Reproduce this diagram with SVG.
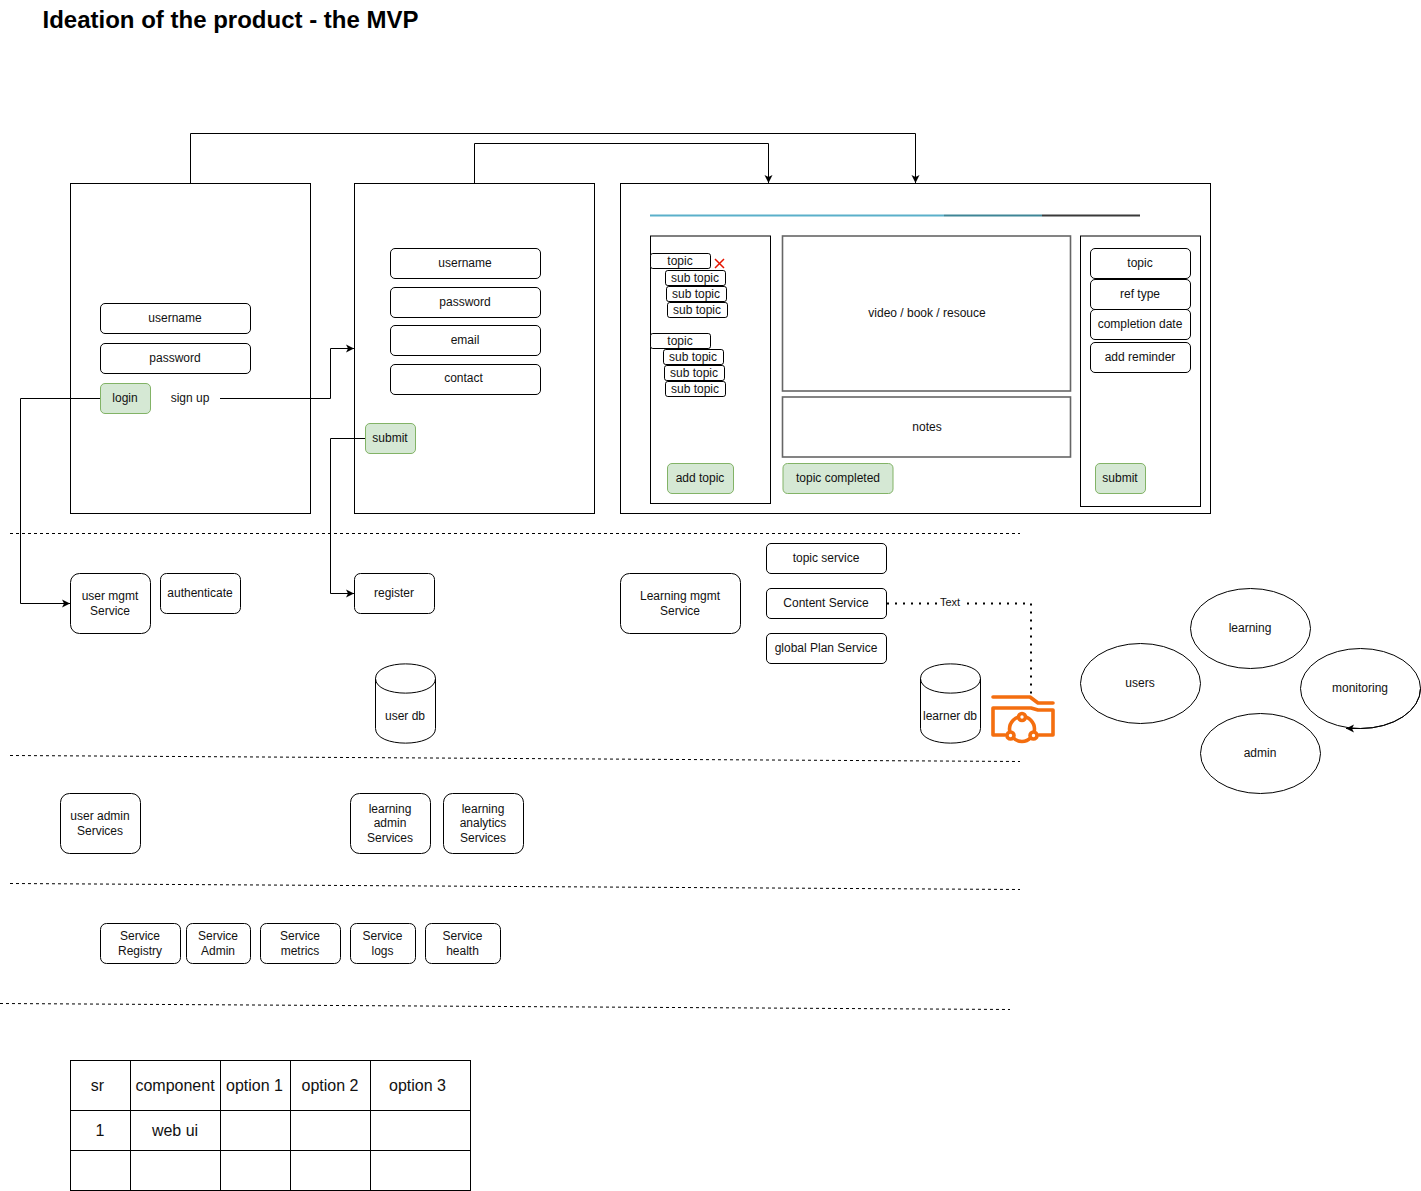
<svg xmlns="http://www.w3.org/2000/svg" width="1421" height="1191" viewBox="0 0 1421 1191">
<style>
text{font-family:"Liberation Sans",Arial,sans-serif;font-size:12px;text-anchor:middle;fill:#111}
.b{fill:#fff;stroke:#000;stroke-width:1}
.g{fill:#d5e8d4;stroke:#82b366;stroke-width:1}
.f{fill:none;stroke:#000;stroke-width:1}
.d{fill:none;stroke:#000;stroke-width:1;stroke-dasharray:3 3}
.t{font-size:16px}
.gr{fill:#fff;stroke:#666;stroke-width:1.600}
</style>
<defs><marker id="a" markerWidth="9" markerHeight="9" refX="8" refY="4.500" orient="auto" markerUnits="userSpaceOnUse"><path d="M0 0.500L8 4.500L0 8.500L2 4.500Z" fill="#000"/></marker></defs>
<rect width="1421" height="1191" fill="#fff"/>
<text x="230.500" y="28" style="font-size:24px;font-weight:bold;fill:#000">Ideation of the product - the MVP</text>

<g id="screens">
<rect class="b" x="70.500" y="183.500" width="240" height="330"/>
<rect class="b" x="354.500" y="183.500" width="240" height="330"/>
<rect class="b" x="620.500" y="183.500" width="590" height="330"/>
<rect class="b" x="650.500" y="236" width="120" height="267.500"/>
<rect class="gr" x="782.500" y="236" width="288" height="155"/>
<rect class="gr" x="782.500" y="397" width="288" height="60"/>
<rect class="b" x="1080.500" y="236" width="120" height="270.500"/>
</g>

<g id="progress">
<path d="M650 215.500H944" stroke="#5ab0ca" stroke-width="2" fill="none"/>
<path d="M944 215.500H1042" stroke="#3f8596" stroke-width="2" fill="none"/>
<path d="M1042 215.500H1140" stroke="#3a3a3a" stroke-width="2" fill="none"/>
</g>

<g id="connectors">
<path class="f" d="M190.500 183V133.500H915.500V183" marker-end="url(#a)"/>
<path class="f" d="M474.500 183V143.500H768.500V183" marker-end="url(#a)"/>
<path class="f" d="M220 398.500H330.500V348.500H354" marker-end="url(#a)"/>
<path class="f" d="M100 398.500H20.500V603.500H70" marker-end="url(#a)"/>
<path class="f" d="M365 438.500H330.500V593.500H354" marker-end="url(#a)"/>
<path d="M887 603.500H1031V695" fill="none" stroke="#000" stroke-width="2" stroke-dasharray="2 6"/>
<rect x="938" y="596" width="25" height="13" fill="#fff"/>
<text x="950" y="606" style="font-size:11px">Text</text>
</g>

<g id="seps">
<path class="d" d="M10 533.500H1020"/>
<path class="d" d="M10 755.500L1020 761.500"/>
<path class="d" d="M10 883.500L1020 889.500"/>
<path class="d" d="M0 1003.500L1010 1009.500"/>
</g>

<g id="login-form">
<rect class="b" x="100.500" y="303.500" width="150" height="30" rx="4.500"/><text x="175" y="322">username</text>
<rect class="b" x="100.500" y="343.500" width="150" height="30" rx="4.500"/><text x="175" y="362">password</text>
<rect class="g" x="100.500" y="383.500" width="50" height="30" rx="4.500"/><text x="125" y="402">login</text>
<text x="190" y="402">sign up</text>
</g>

<g id="signup-form">
<rect class="b" x="390.500" y="248.500" width="150" height="30" rx="4.500"/><text x="465" y="267">username</text>
<rect class="b" x="390.500" y="287.500" width="150" height="30" rx="4.500"/><text x="465" y="306">password</text>
<rect class="b" x="390.500" y="325.500" width="150" height="30" rx="4.500"/><text x="465" y="344">email</text>
<rect class="b" x="390.500" y="364.500" width="150" height="30" rx="4.500"/><text x="463.500" y="382">contact</text>
<rect class="g" x="365.500" y="423.500" width="50" height="30" rx="4.500"/><text x="390" y="442">submit</text>
</g>

<g id="topics">
<rect class="b" x="650.500" y="253.500" width="60" height="15" rx="2.300"/><text x="680" y="265">topic</text>
<path d="M715 259L724 268M724 259L715 268" stroke="#e51400" stroke-width="1.500" fill="none"/>
<rect class="b" x="665.500" y="270.500" width="60" height="15" rx="2.300"/><text x="695" y="282">sub topic</text>
<rect class="b" x="666.500" y="286.500" width="60" height="15" rx="2.300"/><text x="696" y="298">sub topic</text>
<rect class="b" x="667.500" y="302.500" width="60" height="15" rx="2.300"/><text x="697" y="314">sub topic</text>
<rect class="b" x="650.500" y="333.500" width="60" height="15" rx="2.300"/><text x="680" y="345">topic</text>
<rect class="b" x="663.500" y="349.500" width="60" height="15" rx="2.300"/><text x="693" y="361">sub topic</text>
<rect class="b" x="664.500" y="365.500" width="60" height="15" rx="2.300"/><text x="694" y="377">sub topic</text>
<rect class="b" x="665.500" y="381.500" width="60" height="15" rx="2.300"/><text x="695" y="393">sub topic</text>
<rect class="g" x="667.500" y="463.500" width="66" height="30" rx="4.500"/><text x="700" y="482">add topic</text>
</g>

<g id="content">
<text x="927" y="317">video / book / resouce</text>
<text x="927" y="431">notes</text>
<rect class="g" x="783" y="463.500" width="110" height="30" rx="4.500"/><text x="838" y="482">topic completed</text>
</g>

<g id="details">
<rect class="b" x="1090.500" y="248.500" width="100" height="30" rx="4.500"/><text x="1140" y="267">topic</text>
<rect class="b" x="1090.500" y="279.500" width="100" height="30" rx="4.500"/><text x="1140" y="298">ref type</text>
<rect class="b" x="1090.500" y="309.500" width="100" height="30" rx="4.500"/><text x="1140" y="328">completion date</text>
<rect class="b" x="1090.500" y="342.500" width="100" height="30" rx="4.500"/><text x="1140" y="361">add reminder</text>
<rect class="g" x="1095.500" y="463.500" width="50" height="30" rx="4.500"/><text x="1120" y="482">submit</text>
</g>

<g id="user-mgmt"><rect class="b" x="70.500" y="573.500" width="80" height="60" rx="9"/><text x="110" y="600">user mgmt</text><text x="110" y="615">Service</text></g>
<g id="authenticate"><rect class="b" x="160.500" y="573.500" width="80" height="40" rx="6"/><text x="200" y="597">authenticate</text></g>
<g id="register"><rect class="b" x="354.500" y="573.500" width="80" height="40" rx="6"/><text x="394" y="597">register</text></g>
<g id="learning-mgmt"><rect class="b" x="620.500" y="573.500" width="120" height="60" rx="9"/><text x="680" y="600">Learning mgmt</text><text x="680" y="615">Service</text></g>
<g id="topic-service"><rect class="b" x="766.500" y="543.500" width="120" height="30" rx="4.500"/><text x="826" y="562">topic service</text></g>
<g id="content-service"><rect class="b" x="766.500" y="588.500" width="120" height="30" rx="4.500"/><text x="826" y="607">Content Service</text></g>
<g id="plan-service"><rect class="b" x="766.500" y="633.500" width="120" height="30" rx="4.500"/><text x="826" y="652">global Plan Service</text></g>

<g id="user-db"><path class="b" d="M375.500 678.500C375.500 659 435.500 659 435.500 678.500V728.500C435.500 748 375.500 748 375.500 728.500Z"/><path class="f" d="M375.500 678.500C375.500 698 435.500 698 435.500 678.500"/><text x="405" y="720">user db</text></g>
<g id="learner-db"><path class="b" d="M920.500 678.500C920.500 659 980.500 659 980.500 678.500V728.500C980.500 748 920.500 748 920.500 728.500Z"/><path class="f" d="M920.500 678.500C920.500 698 980.500 698 980.500 678.500"/><text x="950" y="720">learner db</text></g>

<g id="folder-icon" fill="none" stroke="#f46e0f" stroke-width="3.600" stroke-linecap="round" stroke-linejoin="round">
<path d="M993 697H1030L1038 703H1053"/>
<path d="M1005 735H993V708H1031L1038 710H1053V735H1039"/>
<circle cx="1022" cy="729" r="12.500" fill="#fff"/>
<circle cx="1022" cy="717" r="3.500" fill="#fff"/><circle cx="1010.500" cy="735.500" r="3.500" fill="#fff"/><circle cx="1033.500" cy="735.500" r="3.500" fill="#fff"/>
</g>

<g id="users"><ellipse class="b" cx="1140.500" cy="683.500" rx="60" ry="40"/><text x="1140" y="687">users</text></g>
<g id="learning"><ellipse class="b" cx="1250.500" cy="628.500" rx="60" ry="40"/><text x="1250" y="632">learning</text></g>
<g id="monitoring"><ellipse class="b" cx="1360.500" cy="688.500" rx="60" ry="40"/><text x="1360" y="692">monitoring</text></g>
<g id="admin"><ellipse class="b" cx="1260.500" cy="753.500" rx="60" ry="40"/><text x="1260" y="757">admin</text></g>
<g id="connectors-top"><path class="f" d="M1420.500 688.500A60 40 0 0 1 1360.500 728.500H1346" marker-end="url(#a)"/></g>

<g id="user-admin"><rect class="b" x="60.500" y="793.500" width="80" height="60" rx="9"/><text x="100" y="820">user admin</text><text x="100" y="835">Services</text></g>
<g id="learning-admin"><rect class="b" x="350.500" y="793.500" width="80" height="60" rx="9"/><text x="390" y="813">learning</text><text x="390" y="827">admin</text><text x="390" y="842">Services</text></g>
<g id="learning-analytics"><rect class="b" x="443.500" y="793.500" width="80" height="60" rx="9"/><text x="483" y="813">learning</text><text x="483" y="827">analytics</text><text x="483" y="842">Services</text></g>

<g id="svc-registry"><rect class="b" x="100.500" y="923.500" width="80" height="40" rx="6"/><text x="140" y="940">Service</text><text x="140" y="955">Registry</text></g>
<g id="svc-admin"><rect class="b" x="186.500" y="923.500" width="64" height="40" rx="6"/><text x="218" y="940">Service</text><text x="218" y="955">Admin</text></g>
<g id="svc-metrics"><rect class="b" x="260.500" y="923.500" width="80" height="40" rx="6"/><text x="300" y="940">Service</text><text x="300" y="955">metrics</text></g>
<g id="svc-logs"><rect class="b" x="350.500" y="923.500" width="65" height="40" rx="6"/><text x="382.500" y="940">Service</text><text x="382.500" y="955">logs</text></g>
<g id="svc-health"><rect class="b" x="425.500" y="923.500" width="75" height="40" rx="6"/><text x="462.500" y="940">Service</text><text x="462.500" y="955">health</text></g>

<g id="table">
<rect class="b" x="70.500" y="1060.500" width="400" height="130"/>
<path class="f" d="M70.500 1110.500H470.500M70.500 1150.500H470.500M130.500 1060.500V1190.500M220.500 1060.500V1190.500M290.500 1060.500V1190.500M370.500 1060.500V1190.500"/>
<text class="t" x="97.500" y="1091">sr</text>
<text class="t" x="175" y="1091">component</text>
<text class="t" x="254.500" y="1091">option 1</text>
<text class="t" x="330" y="1091">option 2</text>
<text class="t" x="417.500" y="1091">option 3</text>
<text class="t" x="100" y="1136">1</text>
<text class="t" x="175" y="1136">web ui</text>
</g>
</svg>
